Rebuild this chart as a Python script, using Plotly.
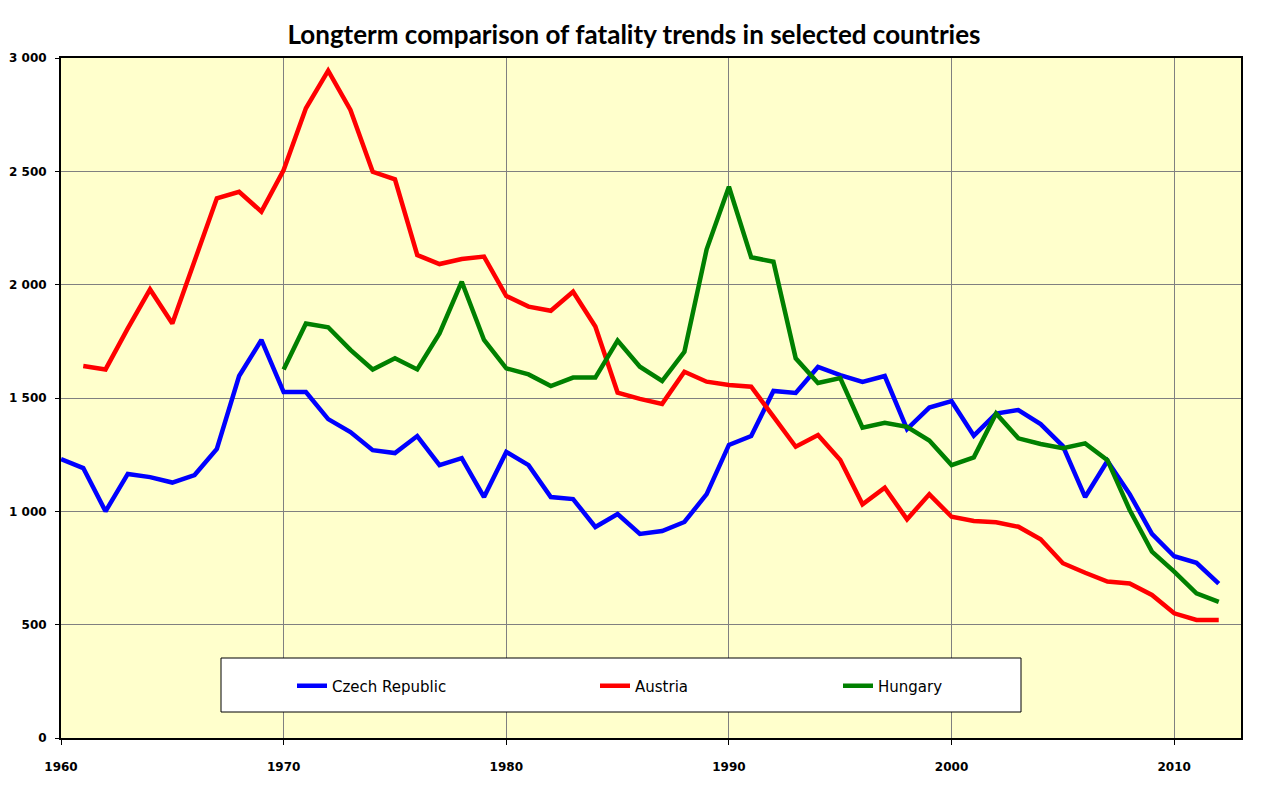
import plotly.graph_objects as go

czech_years = list(range(1960, 2013))
czech = [1230, 1191, 1000, 1165, 1151, 1127, 1160, 1275, 1597, 1756,
         1526, 1526, 1407, 1350, 1270, 1257, 1332, 1204, 1235, 1063,
         1262, 1204, 1063, 1054, 931, 988, 900, 913, 953, 1076,
         1293, 1332, 1531, 1522, 1637, 1601, 1571, 1597, 1363, 1458,
         1486, 1334, 1431, 1447, 1385, 1288, 1063, 1222, 1076, 901,
         802, 773, 681]

austria_years = list(range(1961, 2013))
austria = [1641, 1626, 1807, 1979, 1829, 2101, 2381, 2410, 2322,
           2506, 2778, 2944, 2771, 2498, 2465, 2131, 2091, 2113, 2124,
           1950, 1903, 1885, 1969, 1815, 1524, 1496, 1474, 1616, 1572,
           1557, 1550, 1418, 1285, 1337, 1226, 1031, 1104, 965, 1075,
           976, 957, 952, 932, 877, 771, 729, 690, 682, 631,
           550, 521, 521]

hungary_years = list(range(1970, 2013))
hungary = [1626, 1829, 1812, 1712, 1626, 1675, 1626, 1785, 2013, 1756,
           1631, 1604, 1553, 1590, 1590, 1753, 1638, 1575, 1704, 2156,
           2432, 2121, 2101, 1675, 1566, 1588, 1369, 1391, 1373, 1312,
           1204, 1238, 1432, 1322, 1297, 1278, 1300, 1226, 1006, 822,
           734, 638, 601]

series = [
    ("Czech Republic", czech_years, czech, "#0000FF", "legend2"),
    ("Austria", austria_years, austria, "#FF0000", "legend3"),
    ("Hungary", hungary_years, hungary, "#008000", "legend4"),
]

fig = go.Figure()
for name, xs, ys, color, lg in series:
    fig.add_trace(go.Scatter(x=xs, y=ys, name=name, mode="lines",
                             line=dict(color=color, width=4.5),
                             legend=lg))

W, H = 1268, 788
L, T, R, B = 61, 58, 27, 50
pw, ph = W - L - R, H - T - B

def px(x):
    return (x - L) / pw

def py(y):
    return (H - B - y) / ph

legend_font = dict(family="DejaVu Sans", size=15, color="black")
leg_common = dict(orientation="h", yanchor="middle", xanchor="left",
                  y=py(686), bgcolor="rgba(0,0,0,0)", borderwidth=0,
                  font=legend_font)

tickfont = dict(family="DejaVu Sans", size=12, color="black", weight="bold")

fig.update_layout(
    width=W, height=H,
    margin=dict(l=L, r=R, t=T, b=B, autoexpand=False),
    paper_bgcolor="white",
    plot_bgcolor="#FFFFCC",
    separators=". ",
    showlegend=True,
    title=dict(text="<b>Longterm comparison of fatality trends in selected countries</b>",
               x=0.5, xanchor="center", y=1 - 35 / H, yanchor="middle",
               font=dict(family="Lato", size=26, color="black")),
    xaxis=dict(range=[1960, 2013], tick0=1960, dtick=10,
               showgrid=True, gridcolor="#808080", gridwidth=1,
               showline=True, linecolor="black", linewidth=2, mirror=True,
               ticks="outside", ticklen=5, tickcolor="black", tickwidth=1,
               ticklabelstandoff=12, automargin=False,
               tickfont=tickfont, zeroline=False),
    yaxis=dict(range=[0, 3000], tick0=0, dtick=500, tickformat=",d",
               showgrid=True, gridcolor="#808080", gridwidth=1,
               showline=True, linecolor="black", linewidth=2, mirror=True,
               ticks="outside", ticklen=4, tickcolor="black", tickwidth=1,
               ticklabelstandoff=6, automargin=False,
               tickfont=tickfont, zeroline=False),
    legend2=dict(x=px(292), **leg_common),
    legend3=dict(x=px(595), **leg_common),
    legend4=dict(x=px(838), **leg_common),
    shapes=[dict(type="rect", xref="paper", yref="paper",
                 x0=px(221), x1=px(1021), y0=py(712), y1=py(658),
                 fillcolor="white", line=dict(color="black", width=1),
                 layer="above")],
)

fig.write_html("out.html",
               config={"displayModeBar": False},
               post_script="document.body.style.margin='0px';document.body.style.overflow='hidden';")
